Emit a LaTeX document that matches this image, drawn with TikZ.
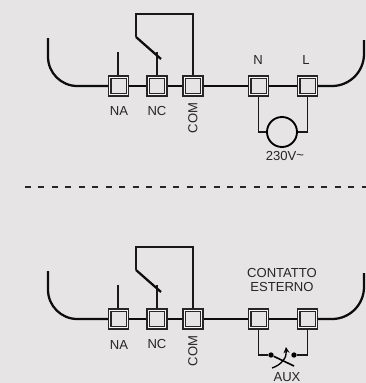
\documentclass[tikz,border=0pt]{standalone}
\usepackage{fontspec}
\setmainfont{Liberation Sans}
\definecolor{panel}{HTML}{E6E4E5}
\tikzset{
  wire/.style={line width=1.7pt,black!95},
  thinwire/.style={line width=1.3pt,black!90},
  terminal/.style={draw=black!85,line width=.9pt,double=black!3,double distance=.9pt,fill=panel,
    minimum size=13.2pt,inner sep=0pt,outer sep=1.3pt,shape=rectangle},
  lab/.style={font=\fontsize{9.8}{10.5}\selectfont,text=black!85,inner sep=0pt,align=center},
  contact/.style={circle,fill=black,inner sep=0pt,minimum size=4pt}
}

\begin{document}
\begin{tikzpicture}[x=.75pt,y=-.75pt]
\fill[panel] (0,0) rectangle (366,383);
\clip (0,0) rectangle (366,383);

% upper block, then lower block
\foreach \yy/\tag in {86/a,319/b}{
  \node[terminal] (NA\tag) at (118.5,\yy) {};
  \node[terminal] (NC\tag) at (157,\yy) {};
  \node[terminal] (COM\tag) at (193,\yy) {};
  \node[terminal] (N\tag) at (258.5,\yy) {};
  \node[terminal] (L\tag) at (307.5,\yy) {};
  \draw[wire] (NA\tag) -- (NC\tag);
  \draw[wire] (NC\tag) -- (COM\tag);
  \draw[wire] (COM\tag) -- (N\tag);
  \draw[wire] (N\tag) -- (L\tag);
  \coordinate (lefttop\tag) at (48,\yy-48);
  \coordinate (righttop\tag) at (364,\yy-46);
  \draw[wire,rounded corners=22pt] (lefttop\tag) |- (NA\tag.west);
  \draw[wire,rounded corners=24pt] (L\tag.east) -| (righttop\tag);
  % relay
  \coordinate (stubNA\tag) at (118.3,\yy-34);
  \coordinate (stubNC\tag) at (157,\yy-34);
  \coordinate (bladetop\tag) at (136,\yy-49);
  \coordinate (bladeend\tag) at (161,\yy-27);
  \coordinate (looptop\tag) at (136,\yy-72);
  \draw[thinwire] (stubNA\tag) -- (stubNA\tag |- NA\tag.north);
  \draw[thinwire] (stubNC\tag) -- (NC\tag.north);
  \draw[wire] (bladeend\tag) -- (bladetop\tag);
  \draw[thinwire] (bladetop\tag) -- (looptop\tag) -| (COM\tag.north);
  \node[lab] (tNA\tag) at (119,\yy+25.5) {NA};
  \node[lab] (tNC\tag) at (157,\yy+25) {NC};
  \node[lab,rotate=90] (tCOM\tag) at (193,\yy+32) {COM};
}

% load
\node[draw,line width=1.4pt,circle,minimum size=22.5pt,inner sep=0pt] (load) at (282,132) {};
\draw[thinwire] (Na.south) |- (load.west);
\draw[thinwire] (La.south) |- (load.east);
\node[lab] (tN) at (258,60) {N};
\node[lab] (tL) at (306,60) {L};
\node[lab] (tload) at (285,156) {230V\raisebox{.5pt}{\textasciitilde}};

% separator
\coordinate (sepleft) at (25,187.3);
\coordinate (sepright) at (366,187.3);
\draw[line width=1.5pt,black!85,dash pattern=on 4.5pt off 5.6pt] (sepleft) -- (sepright);

% external contact
\node[lab] (ext) at (282,280) {CONTATTO\\ESTERNO};
\node[contact] (auxl) at (271,355) {};
\node[contact] (auxr) at (294,355) {};
\coordinate (auxend) at (294,366);
\coordinate (arrowstart) at (272,368);
\coordinate (arrowtip) at (286,347);
\draw[thinwire] (Nb.south) |- (auxl);
\draw[thinwire] (Lb.south) |- (auxr);
\draw[line width=1.2pt] (auxl) -- (auxend);
\draw[line width=1pt,-stealth] (arrowstart) .. controls (281,365) and (287,358) .. (arrowtip);
\node[lab] (taux) at (287,377.5) {AUX};
\end{tikzpicture}
\end{document}
